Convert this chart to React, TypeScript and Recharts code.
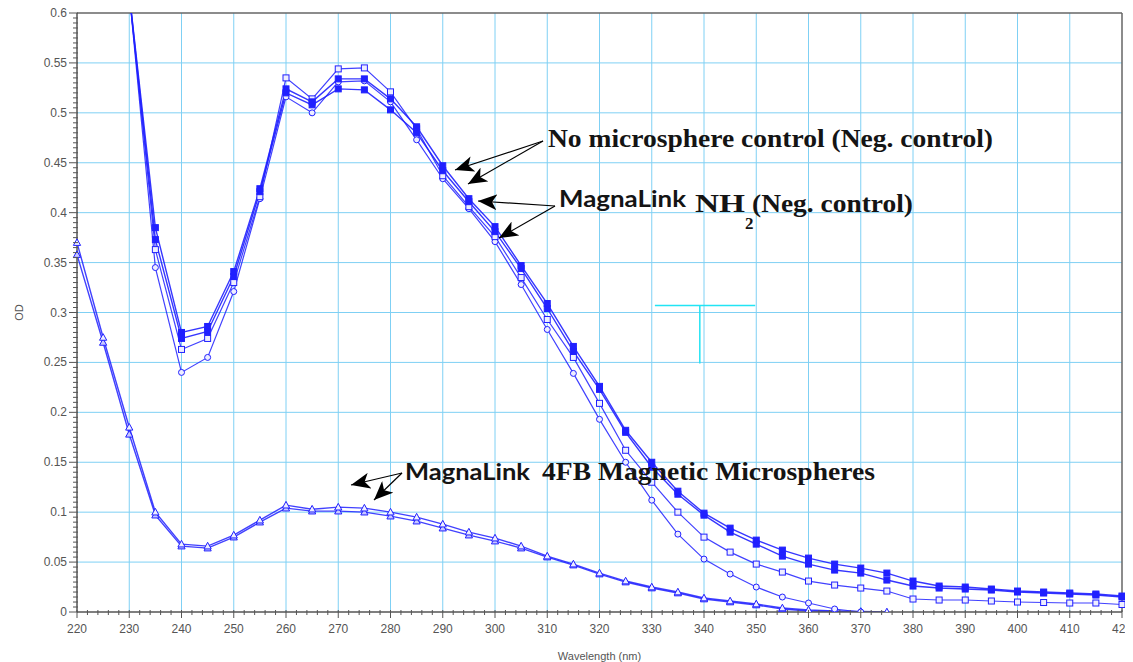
import React from "react"
import { LineChart, Line, XAxis, YAxis, ReferenceLine, Label } from "recharts"

// wavelength (nm)
const wavelengths = [
  220, 225, 230, 235, 240, 245, 250, 255, 260, 265, 270, 275, 280, 285, 290, 295, 300, 305, 310, 315,
  320, 325, 330, 335, 340, 345, 350, 355, 360, 365, 370, 375, 380, 385, 390, 395, 400, 405, 410, 415, 420,
]

// No microsphere control (Neg. control) - two runs, filled squares
const noMicro1 = [
  null, null, 0.62, 0.385, 0.28, 0.286, 0.341, 0.424, 0.524, 0.511, 0.534, 0.534, 0.514, 0.486, 0.447, 0.414,
  0.386, 0.347, 0.309, 0.266, 0.226, 0.182, 0.15, 0.121, 0.099, 0.084, 0.072, 0.062, 0.054, 0.048, 0.044,
  0.039, 0.031, 0.026, 0.025, 0.023, 0.021, 0.02, 0.019, 0.018, 0.016,
]
const noMicro2 = [
  null, null, 0.62, 0.373, 0.274, 0.281, 0.336, 0.421, 0.52, 0.508, 0.524, 0.523, 0.503, 0.48, 0.442, 0.411,
  0.381, 0.344, 0.304, 0.261, 0.223, 0.18, 0.145, 0.118, 0.097, 0.08, 0.068, 0.056, 0.048, 0.042, 0.039,
  0.032, 0.026, 0.024, 0.023, 0.022, 0.02, 0.019, 0.018, 0.017, 0.015,
]
// MagnaLink NH2 (Neg. control) - two runs, open markers
const nh2a = [
  null, null, 0.62, 0.363, 0.263, 0.274, 0.33, 0.416, 0.535, 0.514, 0.544, 0.545, 0.521, 0.484, 0.437, 0.406,
  0.376, 0.335, 0.293, 0.255, 0.209, 0.162, 0.13, 0.1, 0.075, 0.06, 0.048, 0.04, 0.031, 0.027, 0.024,
  0.021, 0.013, 0.012, 0.012, 0.011, 0.01, 0.0095, 0.009, 0.009, 0.0075,
]
const nh2b = [
  null, null, 0.62, 0.345, 0.24, 0.255, 0.321, 0.414, 0.516, 0.5, 0.531, 0.532, 0.511, 0.473, 0.434, 0.404,
  0.371, 0.328, 0.283, 0.239, 0.193, 0.15, 0.112, 0.078, 0.053, 0.038, 0.025, 0.015, 0.009, 0.003, 0.0,
  null, null, null, null, null, null, null, null, null, null,
]
// MagnaLink 4FB Magnetic Microspheres - two runs, triangles
const fb4a = [
  0.37, 0.275, 0.185, 0.1, 0.068, 0.066, 0.077, 0.092, 0.107, 0.103, 0.105, 0.104, 0.1, 0.095, 0.088, 0.08,
  0.074, 0.066, 0.056, 0.048, 0.039, 0.031, 0.025, 0.02, 0.014, 0.011, 0.008, 0.004, 0.002, 0.001, 0.0005,
  0.0, null, null, null, null, null, null, null, null, null,
]
const fb4b = [
  0.358, 0.27, 0.178, 0.097, 0.066, 0.064, 0.075, 0.09, 0.104, 0.101, 0.101, 0.1, 0.096, 0.091, 0.084, 0.077,
  0.071, 0.064, 0.055, 0.047, 0.038, 0.03, 0.024, 0.019, 0.013, 0.01, 0.007, 0.003, 0.001, 0.0005, 0.0,
  null, null, null, null, null, null, null, null, null, null,
]

const xMajor = [220, 230, 240, 250, 260, 270, 280, 290, 300, 310, 320, 330, 340, 350, 360, 370, 380, 390, 400, 410, 420]
const yMajor = [0, 0.05, 0.1, 0.15, 0.2, 0.25, 0.3, 0.35, 0.4, 0.45, 0.5, 0.55, 0.6]

// minor ticks: 2 nm on x, 0.005 on y
const xTicks: number[] = []
for (let v = 220; v <= 420; v += 2) xTicks.push(v)
const yTicks: number[] = []
for (let i = 0; i <= 120; i++) yTicks.push(Math.round(i * 5) / 1000)

const data = wavelengths.map((wl, i) => ({
  wl,
  noMicro1: noMicro1[i],
  noMicro2: noMicro2[i],
  nh2a: nh2a[i],
  nh2b: nh2b[i],
  fb4a: fb4a[i],
  fb4b: fb4b[i],
}))

const BLUE = "#2020ff"
const GRID = "#7fd0f4"
const AXIS = "#555"
const TXT = "#555"

function XTick(props: any) {
  const { x, y, payload } = props
  const v = payload.value
  const major = v % 10 === 0
  return (
    <g>
      <line x1={x} x2={x} y1={y - 2} y2={y + (major ? 6 : 3)} stroke={AXIS} strokeWidth={1} />
      {major && (
        <text x={x} y={y + 21} textAnchor="middle" fontSize={12} fill={TXT} fontFamily="Liberation Sans, Arial, sans-serif">
          {v}
        </text>
      )}
    </g>
  )
}

function YTick(props: any) {
  const { x, y, payload } = props
  const v = payload.value
  const major = Math.round(v * 1000) % 50 === 0
  return (
    <g>
      <line x1={x - (major ? 8 : 4)} x2={x + 1} y1={y} y2={y} stroke={AXIS} strokeWidth={1} />
      {major && (
        <text x={x - 10} y={y + 4} textAnchor="end" fontSize={12} fill={TXT} fontFamily="Liberation Sans, Arial, sans-serif">
          {String(v)}
        </text>
      )}
    </g>
  )
}

const squareDot = (fill: string) => (p: any) => {
  const { cx, cy, index } = p
  if (cx == null || cy == null) return <g key={index} />
  return <rect key={index} x={cx - 3} y={cy - 3} width={6} height={6} fill={fill} stroke={BLUE} strokeWidth={1} />
}
const circleDot = (p: any) => {
  const { cx, cy, index } = p
  if (cx == null || cy == null) return <g key={index} />
  return <circle key={index} cx={cx} cy={cy} r={3} fill="#eef" stroke={BLUE} strokeWidth={1} />
}
const triDot = (fill: string) => (p: any) => {
  const { cx, cy, index } = p
  if (cx == null || cy == null) return <g key={index} />
  return (
    <path
      key={index}
      d={`M${cx},${cy - 3.8}L${cx + 3.6},${cy + 2.8}L${cx - 3.6},${cy + 2.8}Z`}
      fill={fill}
      stroke={BLUE}
      strokeWidth={1}
    />
  )
}

function Annotations() {
  const serif = "Liberation Serif, Times New Roman, serif"
  const sans = "Lato, Noto Sans, sans-serif"
  const ink = "#141414"
  return (
    <svg width={1125} height={654} style={{ position: "absolute", left: 0, top: 3, pointerEvents: "none" }}>
      <defs>
        <marker id="ah" markerUnits="userSpaceOnUse" markerWidth={20} markerHeight={16} refX={19} refY={8} orient="auto">
          <path d="M0,0 L19,8 L0,16 L5,8 Z" fill="#000" />
        </marker>
      </defs>
      <g stroke="#000" strokeWidth={1.2} fill="none">
        <line x1={535} y1={133} x2={447} y2={162} markerEnd="url(#ah)" />
        <line x1={535} y1={133} x2={460} y2={176} markerEnd="url(#ah)" />
        <line x1={547} y1={198} x2={470} y2={193} markerEnd="url(#ah)" />
        <line x1={547} y1={198} x2={491} y2={230} markerEnd="url(#ah)" />
        <line x1={394} y1={465} x2={343} y2={477} markerEnd="url(#ah)" />
        <line x1={394} y1={465} x2={366} y2={492} markerEnd="url(#ah)" />
      </g>
      <text x={540} y={139} fontFamily={serif} fontWeight="bold" fontSize={26} fill={ink} textLength={445} lengthAdjust="spacingAndGlyphs">
        No microsphere control (Neg. control)
      </text>
      <text x={551} y={199} fontFamily={sans} fontWeight="bold" fontSize={22} fill={ink} textLength={127} lengthAdjust="spacingAndGlyphs">
        MagnaLink
      </text>
      <text x={687} y={204} fontFamily={serif} fontWeight="bold" fontSize={26} fill={ink} textLength={50} lengthAdjust="spacingAndGlyphs">
        NH
      </text>
      <text x={737} y={221} fontFamily={serif} fontWeight="bold" fontSize={17} fill={ink}>
        2
      </text>
      <text x={744} y={204} fontFamily={serif} fontWeight="bold" fontSize={26} fill={ink} textLength={161} lengthAdjust="spacingAndGlyphs">
        (Neg. control)
      </text>
      <text x={397} y={472} fontFamily={sans} fontWeight="bold" fontSize={22} fill={ink} textLength={125} lengthAdjust="spacingAndGlyphs">
        MagnaLink
      </text>
      <text x={534} y={472} fontFamily={serif} fontWeight="bold" fontSize={26} fill={ink} textLength={333} lengthAdjust="spacingAndGlyphs">
        4FB Magnetic Microspheres
      </text>
    </svg>
  )
}

export default function App() {
  return (
    <div style={{ position: "relative", width: 1125, height: 657, marginTop: -3 }}>
      <LineChart width={1125} height={657} data={data} margin={{ top: 8, right: 11, bottom: 0, left: 0 }}>
        <XAxis
          dataKey="wl"
          type="number"
          domain={[220, 420]}
          ticks={xTicks}
          interval={0}
          tickSize={0}
          tickMargin={0}
          tickLine={false}
          tick={XTick}
          axisLine={{ stroke: AXIS, strokeWidth: 1.5 }}
          height={50}
        >
          <Label value="Wavelength (nm)" position="insideBottom" offset={2} fontSize={11} fill={TXT} fontFamily="Liberation Sans, Arial, sans-serif" />
        </XAxis>
        <YAxis
          type="number"
          domain={[0, 0.6]}
          allowDataOverflow
          ticks={yTicks}
          interval={0}
          tickSize={0}
          tickMargin={0}
          tickLine={false}
          tick={YTick}
          axisLine={{ stroke: AXIS, strokeWidth: 1.5 }}
          width={69}
        >
          <Label
            content={(p: any) => {
              const vb = p.viewBox
              const cx = vb.x + 11
              const cy = vb.y + vb.height / 2
              return (
                <text x={cx} y={cy} transform={`rotate(-90 ${cx} ${cy})`} textAnchor="middle" dominantBaseline="central" fontSize={11} fill={TXT} fontFamily="Liberation Sans, Arial, sans-serif">
                  OD
                </text>
              )
            }}
          />
        </YAxis>
        {xMajor.slice(1, -1).map((v) => (
          <ReferenceLine key={"gx" + v} x={v} stroke={GRID} strokeWidth={1} />
        ))}
        {yMajor.slice(1, -1).map((v) => (
          <ReferenceLine key={"gy" + v} y={v} stroke={GRID} strokeWidth={1} />
        ))}
        <ReferenceLine y={0.6} stroke="#666" strokeWidth={1.5} />
        <ReferenceLine x={420} stroke="#666" strokeWidth={1.5} />
        <ReferenceLine segment={[{ x: 330.6, y: 0.307 }, { x: 349.8, y: 0.307 }]} stroke="#22e4f4" strokeWidth={1.5} />
        <ReferenceLine segment={[{ x: 339.2, y: 0.307 }, { x: 339.2, y: 0.249 }]} stroke="#22e4f4" strokeWidth={1.5} />

        <Line dataKey="fb4b" stroke={BLUE} strokeWidth={1.4} strokeOpacity={0.85} dot={triDot("#c8c8ff")} isAnimationActive={false} />
        <Line dataKey="fb4a" stroke={BLUE} strokeWidth={1.4} strokeOpacity={0.85} dot={triDot("#eef")} isAnimationActive={false} />
        <Line dataKey="nh2b" stroke={BLUE} strokeWidth={1.2} strokeOpacity={0.85} dot={circleDot} isAnimationActive={false} />
        <Line dataKey="nh2a" stroke={BLUE} strokeWidth={1.2} strokeOpacity={0.85} dot={squareDot("#eef")} isAnimationActive={false} />
        <Line dataKey="noMicro2" stroke={BLUE} strokeWidth={1.4} strokeOpacity={0.9} dot={squareDot(BLUE)} isAnimationActive={false} />
        <Line dataKey="noMicro1" stroke={BLUE} strokeWidth={1.4} strokeOpacity={0.9} dot={squareDot(BLUE)} isAnimationActive={false} />
      </LineChart>
      <Annotations />
    </div>
  )
}
